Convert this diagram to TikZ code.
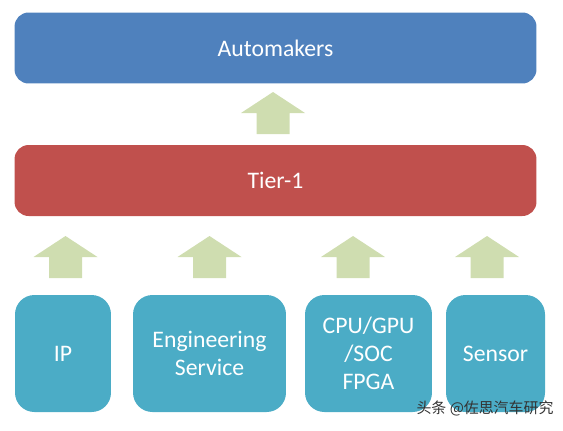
\documentclass[tikz,border=0pt]{standalone}
\usepackage{fontspec}
\setmainfont{Carlito}
\newfontfamily\cjkfont{Noto Sans CJK SC}
\usepackage{tikz}
\usetikzlibrary{positioning}
\definecolor{autoblue}{HTML}{4F81BD}
\definecolor{tierred}{HTML}{C0504D}
\definecolor{partcyan}{HTML}{4BACC6}
\definecolor{arrowgreen}{HTML}{CFDDB0}

\begin{document}
\begin{tikzpicture}[
  x=0.02cm, y=-0.02cm,
  layer/.style={fill=#1, rounded corners=8pt, minimum width=10.44cm, minimum height=1.42cm,
    text=white, font=\fontsize{13.5}{16}\selectfont, inner sep=0pt},
  part/.style={fill=partcyan, rounded corners=11pt, minimum height=2.34cm, align=center,
    text=white, font=\fontsize{13.5}{16}\selectfont, inner sep=0pt},
  uparr/.pic={\fill[arrowgreen] (-16.5,0) -- (-16.5,-21) -- (-32,-21) -- (0,-42) -- (32,-21) -- (16.5,-21) -- (16.5,0) -- cycle;},
  wmark/.style={font=\cjkfont\fontsize{8.5}{10}\selectfont, text=black!80, inner sep=0pt}
]
  \useasboundingbox (0,0) rectangle (563,430);

  \node[layer=autoblue] (automakers) at (275.5,48) {Automakers};
  \node[layer=tierred] (tier) at (275.5,180.5) {Tier-1};

  \node[part, minimum width=1.92cm] (ip) at (63,353.5) {IP};
  \node[part, minimum width=3.06cm] (eng) at (209.5,353.5) {Engineering\\Service};
  \node[part, minimum width=2.54cm] (cpu) at (368.5,353.5) {CPU/GPU\\/SOC\\FPGA};
  \node[part, minimum width=1.98cm] (sensor) at (495.5,353.5) {Sensor};

  \pic at (273,134) {uparr};
  \foreach \ax in {65.5,209.5,353,487}
    \pic at (\ax,278) {uparr};

  \node[wmark] (wm) at (485,408) {头条 @佐思汽车研究};
\end{tikzpicture}
\end{document}
